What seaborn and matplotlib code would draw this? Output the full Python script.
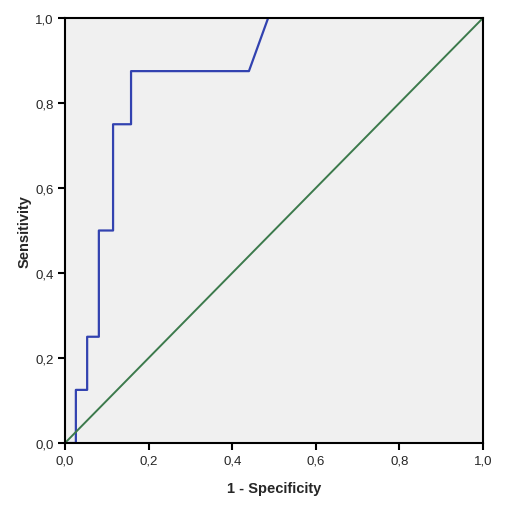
import numpy as np
import pandas as pd
import matplotlib
matplotlib.use("Agg")
import matplotlib.pyplot as plt
from matplotlib.ticker import FuncFormatter
import seaborn as sns

# ROC curve points
fpr = [0.0, 0.026, 0.026, 0.053, 0.053, 0.081, 0.081, 0.115, 0.115, 0.158, 0.158, 0.44, 0.486]
tpr = [0.0, 0.0, 0.125, 0.125, 0.25, 0.25, 0.5, 0.5, 0.75, 0.75, 0.875, 0.875, 1.0]
ref_line = [0.0, 1.0]

sns.set_style("white")
plt.rcParams['font.family'] = ['Liberation Sans', 'DejaVu Sans']

fig = plt.figure(figsize=(5.12, 5.10), dpi=100)
ax = fig.add_axes([65 / 512, 66 / 510, 418 / 512, 425 / 510])
ax.set_facecolor("#f0f0f0")

roc = pd.DataFrame({"fpr": fpr, "tpr": tpr})
sns.lineplot(data=roc, x="fpr", y="tpr", sort=False, estimator=None,
             color="#3242b0", linewidth=1.6, ax=ax)
sns.lineplot(x=ref_line, y=ref_line, color="#3c7a4c", linewidth=1.4, ax=ax)

ax.set_xlim(0, 1)
ax.set_ylim(0, 1)
ticks = np.arange(0, 1.01, 0.2)
ax.set_xticks(ticks)
ax.set_yticks(ticks)
fmt = FuncFormatter(lambda v, p: f"{v:.1f}".replace(".", ","))
ax.xaxis.set_major_formatter(fmt)
ax.yaxis.set_major_formatter(fmt)
ax.tick_params(direction="out", length=5, width=1.5, color="black",
               labelsize=9.5, pad=3, bottom=True, left=True)
for s in ax.spines.values():
    s.set_color("black")
    s.set_linewidth(1.5)

ax.set_xlabel("1 - Specificity", fontsize=10.5, fontweight="bold", labelpad=11)
ax.set_ylabel("Sensitivity", fontsize=10.5, fontweight="bold", labelpad=3)

fig.savefig("out.png", dpi=100)
